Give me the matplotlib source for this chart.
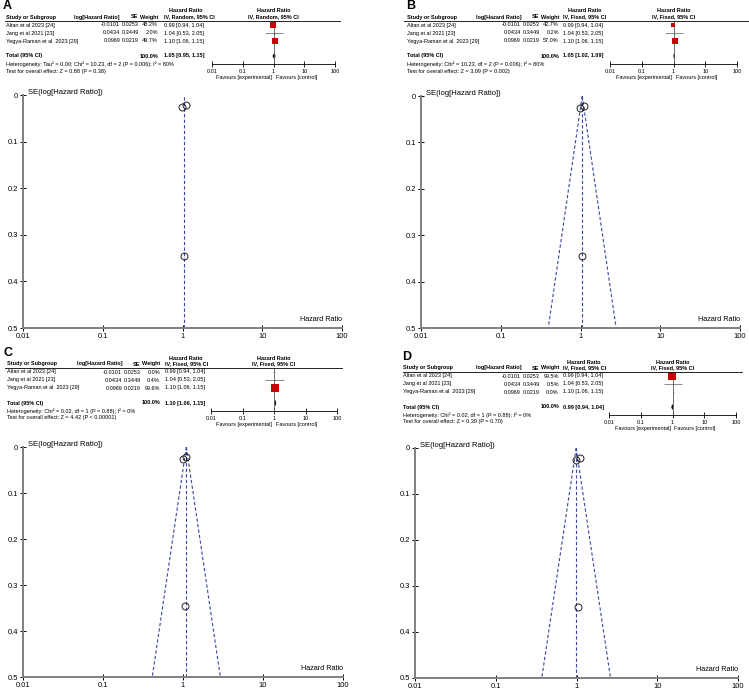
import numpy as np
import matplotlib
matplotlib.use('Agg')
import matplotlib.pyplot as plt
from matplotlib.lines import Line2D

plt.rcParams['font.family'] = ['Liberation Sans', 'DejaVu Sans']

# study data (same three studies in every panel)
studies = ['Altan et al 2023 [24]', 'Jang et al 2021 [23]', 'Yegya-Raman et al  2023 [29]']
log_hr = [-0.0101, 0.0434, 0.0969]
se = [0.0253, 0.3449, 0.0219]
hr = [0.99, 1.04, 1.10]
ci_lo = [0.94, 0.53, 1.06]
ci_hi = [1.04, 2.05, 1.15]

# per-panel results
letters = ['A', 'B', 'C', 'D']
methods = ['IV, Random, 95% CI', 'IV, Fixed, 95% CI', 'IV, Fixed, 95% CI', 'IV, Fixed, 95% CI']
weights = [[48.2, 2.0, 49.7], [42.7, 0.2, 57.0], [0.0, 0.4, 99.6], [99.5, 0.5, 0.0]]
total_hr = [1.05, 1.05, 1.10, 0.99]
total_lo = [0.95, 1.02, 1.06, 0.94]
total_hi = [1.15, 1.09, 1.15, 1.04]
heterogeneity = [
    'Heterogeneity: Tau\u00b2 = 0.00; Chi\u00b2 = 10.23, df = 2 (P = 0.006); I\u00b2 = 80%',
    'Heterogeneity: Chi\u00b2 = 10.23, df = 2 (P = 0.006); I\u00b2 = 80%',
    'Heterogeneity: Chi\u00b2 = 0.02, df = 1 (P = 0.88); I\u00b2 = 0%',
    'Heterogeneity: Chi\u00b2 = 0.02, df = 1 (P = 0.88); I\u00b2 = 0%',
]
overall = [
    'Test for overall effect: Z = 0.88 (P = 0.38)',
    'Test for overall effect: Z = 3.09 (P = 0.002)',
    'Test for overall effect: Z = 4.42 (P < 0.00001)',
    'Test for overall effect: Z = 0.39 (P = 0.70)',
]
show_funnel = [False, True, True, True]
hr_ticks = [0.01, 0.1, 1, 10, 100]
hr_tick_labels = ['0.01', '0.1', '1', '10', '100']
se_ticks = [0, 0.1, 0.2, 0.3, 0.4, 0.5]
se_tick_labels = ['0', '0.1', '0.2', '0.3', '0.4', '0.5']

# layout in pixels
W, H = 749, 690
layout = [
    dict(oy=0, study=6, log=120, se=139, wt=158, ci=164, f0=212, f1=335, l0=5, l1=340,
         fun=(23, 342, 95, 328), letter=(3, 6)),
    dict(oy=0, study=407, log=521, se=540, wt=559, ci=563, f0=610, f1=737, l0=404, l1=749,
         fun=(421, 740, 96, 328), letter=(406, 6)),
    dict(oy=347, study=7, log=122, se=141, wt=160, ci=165, f0=211, f1=337, l0=5, l1=342,
         fun=(23, 343, 447, 677), letter=(4, 353)),
    dict(oy=351, study=403, log=521, se=540, wt=559, ci=563, f0=609, f1=736, l0=403, l1=742,
         fun=(415, 738, 448, 678), letter=(402, 357)),
]

BLUE = '#3a46a0'
FS = 4.0

fig = plt.figure(figsize=(W / 100, H / 100), dpi=100)


def txt(x, y, s, **kw):
    kw.setdefault('fontsize', FS)
    kw.setdefault('va', 'center')
    fig.text(x / W, 1 - y / H, s, **kw)


def add_ax(x0, x1, y0, y1):
    return fig.add_axes([x0 / W, 1 - y1 / H, (x1 - x0) / W, (y1 - y0) / H])


for i, L in enumerate(layout):
    oy = L['oy']
    bold = dict(fontweight='bold')
    txt(L['letter'][0], L['letter'][1], letters[i], fontsize=9, fontweight='bold')

    # table header
    ci_mid = (L['ci'] + L['f0'] - 4) / 2
    txt(ci_mid, oy + 11, 'Hazard Ratio', ha='center', **bold)
    txt(L['study'], oy + 17, 'Study or Subgroup', **bold)
    txt(L['log'], oy + 17, 'log[Hazard Ratio]', ha='right', **bold)
    txt(L['se'] - 1, oy + 17, 'SE', ha='right', **bold)
    txt(L['wt'], oy + 17, 'Weight', ha='right', **bold)
    txt(L['ci'], oy + 17, methods[i], **bold)
    fig.add_artist(Line2D([L['l0'] / W, L['l1'] / W], [1 - (oy + 21) / H] * 2,
                          color='black', lw=0.6))

    rows = [oy + 25, oy + 33, oy + 41]
    for j in range(3):
        txt(L['study'], rows[j], studies[j])
        txt(L['log'], rows[j], '%.4f' % log_hr[j], ha='right')
        txt(L['se'], rows[j], '%.4f' % se[j], ha='right')
        txt(L['wt'], rows[j], '%.1f%%' % weights[i][j], ha='right')
        txt(L['ci'], rows[j], '%.2f [%.2f, %.2f]' % (hr[j], ci_lo[j], ci_hi[j]))
    txt(L['study'], oy + 56, 'Total (95% CI)', **bold)
    txt(L['wt'], oy + 56, '100.0%', ha='right', **bold)
    txt(L['ci'], oy + 56, '%.2f [%.2f, %.2f]' % (total_hr[i], total_lo[i], total_hi[i]), **bold)
    txt(L['study'], oy + 64, heterogeneity[i])
    txt(L['study'], oy + 71, overall[i])

    # forest plot
    fmid = L['f0'] + (L['f1'] - L['f0']) / 2
    txt(fmid, oy + 11, 'Hazard Ratio', ha='center', **bold)
    txt(fmid, oy + 17, methods[i], ha='center', **bold)
    fa = add_ax(L['f0'], L['f1'], oy + 21, oy + 64)
    fa.set_xscale('log')
    fa.set_xlim(0.01, 100)
    fa.set_ylim(oy + 64, oy + 21)
    fa.patch.set_alpha(0)
    for s in ['top', 'left', 'right']:
        fa.spines[s].set_visible(False)
    fa.spines['bottom'].set_linewidth(0.6)
    fa.set_yticks([])
    fa.set_xticks(hr_ticks)
    fa.set_xticklabels(hr_tick_labels)
    fa.xaxis.set_minor_locator(plt.NullLocator())
    fa.tick_params(axis='x', direction='inout', length=5, width=0.6, labelsize=FS, pad=1)
    fa.axvline(1, color='#555555', lw=0.6)
    for j in range(3):
        fa.hlines(rows[j], ci_lo[j], ci_hi[j], color='#777777', lw=0.6)
        side = 7.5 * np.sqrt(weights[i][j] / 100)
        if side > 0.3:
            fa.plot(hr[j], rows[j], 's', ms=side * 0.72, color='#cc0000', mew=0)
    ty = oy + 56
    fa.fill([total_lo[i], total_hr[i], total_hi[i], total_hr[i]], [ty, ty - 2.5, ty, ty + 2.5],
            color='black', lw=0.4)
    txt(fmid - 2, oy + 77, 'Favours [experimental]', ha='right')
    txt(fmid + 2, oy + 77, 'Favours [control]', ha='left')

    # funnel plot
    x0, x1, y0, y1 = L['fun']
    ax = add_ax(x0, x1, y0, y1)
    ax.set_xscale('log')
    ax.set_xlim(0.01, 100)
    ax.set_ylim(0.5, 0)
    for s in ['top', 'right']:
        ax.spines[s].set_visible(False)
    for s in ['left', 'bottom']:
        ax.spines[s].set_color('#808080')
        ax.spines[s].set_linewidth(1.4)
    ax.set_xticks(hr_ticks)
    ax.set_xticklabels(hr_tick_labels)
    ax.xaxis.set_minor_locator(plt.NullLocator())
    ax.set_yticks(se_ticks)
    ax.set_yticklabels(se_tick_labels)
    ax.tick_params(direction='inout', length=5, width=0.7, color='black', labelsize=5.4, pad=1)
    ax.axvline(total_hr[i], color=BLUE, lw=0.8, ls=(0, (3, 2)))
    if show_funnel[i]:
        se_edge = np.array([0, 0.5])
        c = np.log(total_hr[i])
        ax.plot(np.exp(c - 1.96 * se_edge), se_edge, color=BLUE, lw=0.8, ls=(0, (3, 2)))
        ax.plot(np.exp(c + 1.96 * se_edge), se_edge, color=BLUE, lw=0.8, ls=(0, (3, 2)))
    ax.plot(np.exp(log_hr), se, 'o', ms=5, mfc='none', mec='#222222', mew=0.7)
    ax.text(1.0, 0.5 - 0.01, 'Hazard Ratio', transform=ax.get_yaxis_transform(), fontsize=5.2,
            ha='right', va='bottom')
    ax.text(0.0115, -0.006, 'SE(log[Hazard Ratio])', fontsize=5.5, ha='left', va='center')
    ax.patch.set_alpha(0)

fig.savefig('out.png', dpi=100)
